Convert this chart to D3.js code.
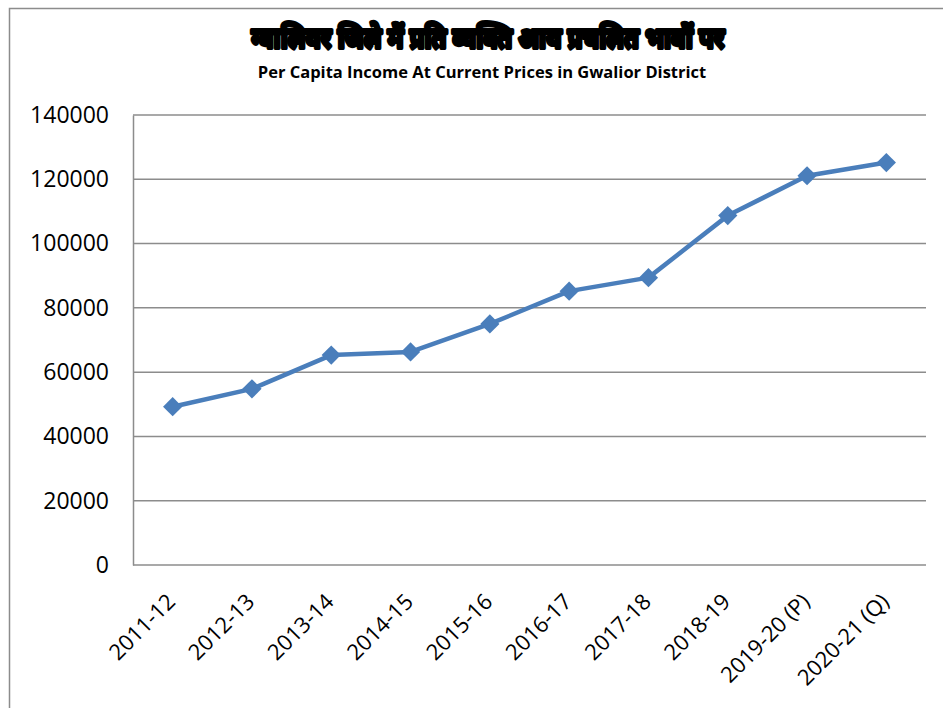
<!DOCTYPE html>
<html>
<head>
<meta charset="utf-8">
<script src="https://cdn.jsdelivr.net/npm/d3@7"></script>
<style>
  html, body { margin: 0; padding: 0; background: #fff; }
  svg { display: block; }
</style>
</head>
<body>
<svg id="chart" width="943" height="708"></svg>
<script>
const categories = ["2011-12","2012-13","2013-14","2014-15","2015-16","2016-17","2017-18","2018-19","2019-20 (P)","2020-21 (Q)"];
const values = [49250, 54800, 65300, 66300, 75000, 85200, 89400, 108700, 121100, 125200];
const yTicks = [0, 20000, 40000, 60000, 80000, 100000, 120000, 140000];
const titleHindi = "ग्वालियर जिले में प्रति व्यक्ति आय प्रचलित भावों पर";
const titleEnglish = "Per Capita Income At Current Prices in Gwalior District";

const svg = d3.select("#chart");
const W = 943, H = 708;
const margin = {left: 133, right: 17, top: 115, bottom: 143};

// outer chart border (cropped on right and bottom)
svg.append("rect").attr("x", 9.5).attr("y", 8.5).attr("width", 1000).attr("height", 1000)
  .attr("fill", "none").attr("stroke", "#8c8c8c").attr("stroke-width", 1.5);

const x = d3.scaleBand().domain(categories).range([margin.left, W - margin.right]);
const y = d3.scaleLinear().domain([0, 140000]).range([H - margin.bottom, margin.top]);

// gridlines
svg.append("g").selectAll("line").data(yTicks).join("line")
  .attr("x1", margin.left).attr("x2", W - margin.right)
  .attr("y1", d => y(d)).attr("y2", d => y(d))
  .attr("stroke", "#8c8c8c").attr("stroke-width", 1.5);

// y axis
const yAxis = svg.append("g").attr("transform", `translate(${margin.left},0)`)
  .call(d3.axisLeft(y).tickValues(yTicks).tickFormat(d => String(d)).tickSize(0).tickPadding(24));
yAxis.select(".domain").attr("stroke", "#8c8c8c").attr("stroke-width", 1.5);
yAxis.selectAll("text").attr("font-family", "'Open Sans', sans-serif").attr("font-size", 23).attr("fill", "#000");

// x axis labels
const xAxis = svg.append("g").attr("transform", `translate(0,${H - margin.bottom})`)
  .call(d3.axisBottom(x).tickSize(0).tickPadding(0));
xAxis.select(".domain").remove();
xAxis.selectAll("text")
  .attr("font-family", "'Open Sans', sans-serif").attr("font-size", 22).attr("fill", "#000")
  .attr("text-anchor", "end")
  .attr("dy", null).attr("y", 0)
  .attr("transform", "translate(4,38) rotate(-45)");

// line
const line = d3.line().x((d, i) => x(categories[i]) + x.bandwidth() / 2).y(d => y(d));
svg.append("path").datum(values).attr("d", line)
  .attr("fill", "none").attr("stroke", "#4a7ebb").attr("stroke-width", 4.5).attr("stroke-linejoin", "round");

// markers
const sym = d3.symbol().type(d3.symbolSquare).size(185);
svg.append("g").selectAll("path").data(values).join("path")
  .attr("d", sym)
  .attr("transform", (d, i) => `translate(${x(categories[i]) + x.bandwidth() / 2},${y(d)}) rotate(45)`)
  .attr("fill", "#4a7ebb");

// titles
svg.append("text").attr("transform", "translate(488,48) scale(0.86,1)").attr("text-anchor", "middle")
  .attr("font-family", "'Noto Sans', sans-serif").attr("font-weight", "bold").attr("font-size", 28)
  .attr("fill", "#000").attr("stroke", "#000").attr("stroke-width", 4).attr("stroke-linejoin", "round")
  .text(titleHindi);
svg.append("text").attr("x", 482).attr("y", 78).attr("text-anchor", "middle")
  .attr("font-family", "'Open Sans', sans-serif").attr("font-weight", "bold").attr("font-size", 16.5)
  .attr("fill", "#000").text(titleEnglish);
</script>
</body>
</html>
